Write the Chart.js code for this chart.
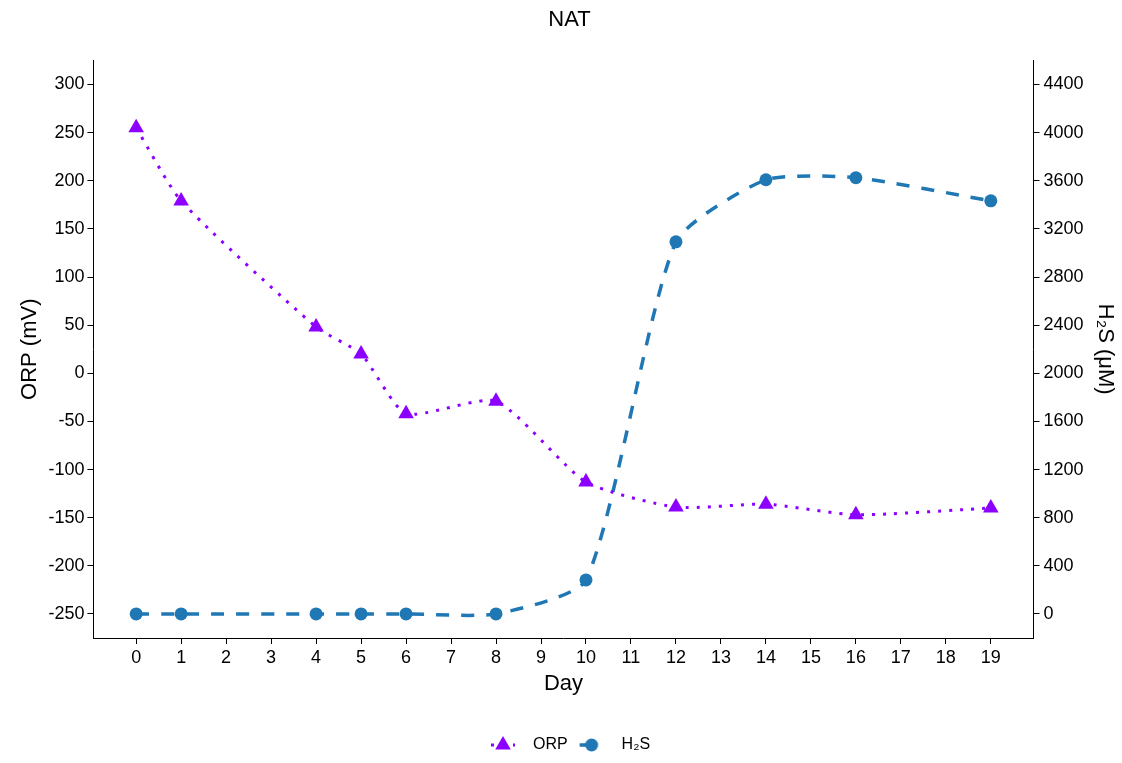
<!DOCTYPE html>
<html>
<head>
<meta charset="utf-8">
<script src="https://cdn.jsdelivr.net/npm/chart.js@4/dist/chart.umd.min.js"></script>
<style>
  html, body { margin: 0; padding: 0; background: #fff; }
</style>
</head>
<body>
<canvas id="chart" width="1122" height="763"></canvas>
<script>
// data
const days = [0, 1, 4, 5, 6, 8, 10, 12, 14, 16, 19];
const orp = [255, 179, 48, 20, -42, -29, -113, -139, -136, -147, -140];
const h2s = [0, 0, 0, 0, 0, 0, 283, 3092, 3608, 3625, 3433];

const dayTicks = [0, 1, 2, 3, 4, 5, 6, 7, 8, 9, 10, 11, 12, 13, 14, 15, 16, 17, 18, 19];
const orpTicks = [-250, -200, -150, -100, -50, 0, 50, 100, 150, 200, 250, 300];
const h2sTicks = [0, 400, 800, 1200, 1600, 2000, 2400, 2800, 3200, 3600, 4000, 4400];

const purple = "#8c00ff";
const blue = "#1f77b4";
const FONT = "'Liberation Sans', Arial, sans-serif";

// legend key: line segment with the marker on top
function legendIcon(color, dash, lw, shape, r) {
  const c = document.createElement("canvas");
  c.width = 36;
  c.height = 20;
  const g = c.getContext("2d");
  g.strokeStyle = color;
  g.lineWidth = lw;
  g.setLineDash(dash);
  g.beginPath();
  g.moveTo(2, 10);
  g.lineTo(26, 10);
  g.stroke();
  g.setLineDash([]);
  g.fillStyle = color;
  g.beginPath();
  if (shape === "triangle") {
    let a = 0;
    g.moveTo(14 + Math.sin(a) * r, 10 - Math.cos(a) * r);
    a += 2 * Math.PI / 3;
    g.lineTo(14 + Math.sin(a) * r, 10 - Math.cos(a) * r);
    a += 2 * Math.PI / 3;
    g.lineTo(14 + Math.sin(a) * r, 10 - Math.cos(a) * r);
    g.closePath();
  } else {
    g.arc(14, 10, r, 0, Math.PI * 2);
  }
  g.fill();
  return c;
}

const orpIcon = legendIcon(purple, [3, 8], 3, "triangle", 9);
const h2sIcon = legendIcon(blue, [13, 12], 3.5, "circle", 6.5);

function fixedTicks(list) {
  return function (scale) {
    scale.ticks = list.map((v) => ({ value: v }));
  };
}

const plainNumber = (v) => String(v);

const axisGrid = {
  drawOnChartArea: false,
  drawTicks: true,
  tickLength: 6,
  color: "#000",
  lineWidth: 1,
};

new Chart(document.getElementById("chart"), {
  type: "line",
  data: {
    datasets: [
      {
        label: "ORP",
        data: days.map((d, i) => ({ x: d, y: orp[i] })),
        yAxisID: "y",
        borderColor: purple,
        backgroundColor: purple,
        borderWidth: 3,
        borderDash: [3, 8],
        borderCapStyle: "butt",
        tension: 0.2,
        pointStyle: "triangle",
        pointRadius: 9,
        pointBorderWidth: 0,
        fill: false,
      },
      {
        label: "H₂S",
        data: days.map((d, i) => ({ x: d, y: h2s[i] })),
        yAxisID: "y2",
        borderColor: blue,
        backgroundColor: blue,
        borderWidth: 3.5,
        borderDash: [13, 12],
        borderCapStyle: "butt",
        tension: 0.2,
        pointStyle: "circle",
        pointRadius: 6.5,
        pointBorderWidth: 0,
        fill: false,
      },
    ],
  },
  options: {
    responsive: false,
    animation: false,
    devicePixelRatio: 1,
    layout: { padding: { left: 17, right: 0, top: 0, bottom: 0 } },
    plugins: {
      title: {
        display: true,
        text: "NAT",
        color: "#000",
        font: { family: FONT, size: 22, weight: "normal" },
        padding: { top: 7, bottom: 27 },
      },
      legend: {
        position: "bottom",
        labels: {
          color: "#000",
          font: { family: FONT, size: 16 },
          usePointStyle: true,
          pointStyleWidth: 36,
          boxHeight: 16,
          padding: 10,
          generateLabels: () => [
            { text: "ORP", pointStyle: orpIcon, fillStyle: purple, strokeStyle: purple, lineWidth: 0, hidden: false, datasetIndex: 0 },
            { text: "H₂S", pointStyle: h2sIcon, fillStyle: blue, strokeStyle: blue, lineWidth: 0, hidden: false, datasetIndex: 1 },
          ],
        },
      },
      tooltip: { enabled: false },
    },
    scales: {
      x: {
        type: "linear",
        position: "bottom",
        min: -0.95,
        max: 19.95,
        afterBuildTicks: fixedTicks(dayTicks),
        ticks: { color: "#000", font: { family: FONT, size: 18, lineHeight: 1 }, padding: 5.5, autoSkip: false, maxRotation: 0, callback: plainNumber },
        grid: axisGrid,
        border: { display: true, color: "#000", width: 1 },
        title: { display: true, text: "Day", color: "#000", font: { family: FONT, size: 22, lineHeight: 1 }, padding: { top: 0, bottom: 32 } },
      },
      y: {
        type: "linear",
        position: "left",
        min: -275,
        max: 325,
        afterBuildTicks: fixedTicks(orpTicks),
        ticks: { color: "#000", font: { family: FONT, size: 18 }, padding: 3, callback: plainNumber },
        grid: axisGrid,
        border: { display: true, color: "#000", width: 1 },
        title: { display: true, text: "ORP (mV)", color: "#000", font: { family: FONT, size: 22 }, padding: { top: 0, bottom: 2 } },
      },
      y2: {
        type: "linear",
        position: "right",
        min: -200,
        max: 4600,
        afterBuildTicks: fixedTicks(h2sTicks),
        ticks: { color: "#000", font: { family: FONT, size: 18 }, padding: 4, callback: plainNumber },
        grid: axisGrid,
        border: { display: true, color: "#000", width: 1 },
        title: { display: true, text: "H₂S (μM)", color: "#000", font: { family: FONT, size: 22 }, padding: { top: 4, bottom: 4 } },
      },
    },
  },
});
</script>
</body>
</html>
